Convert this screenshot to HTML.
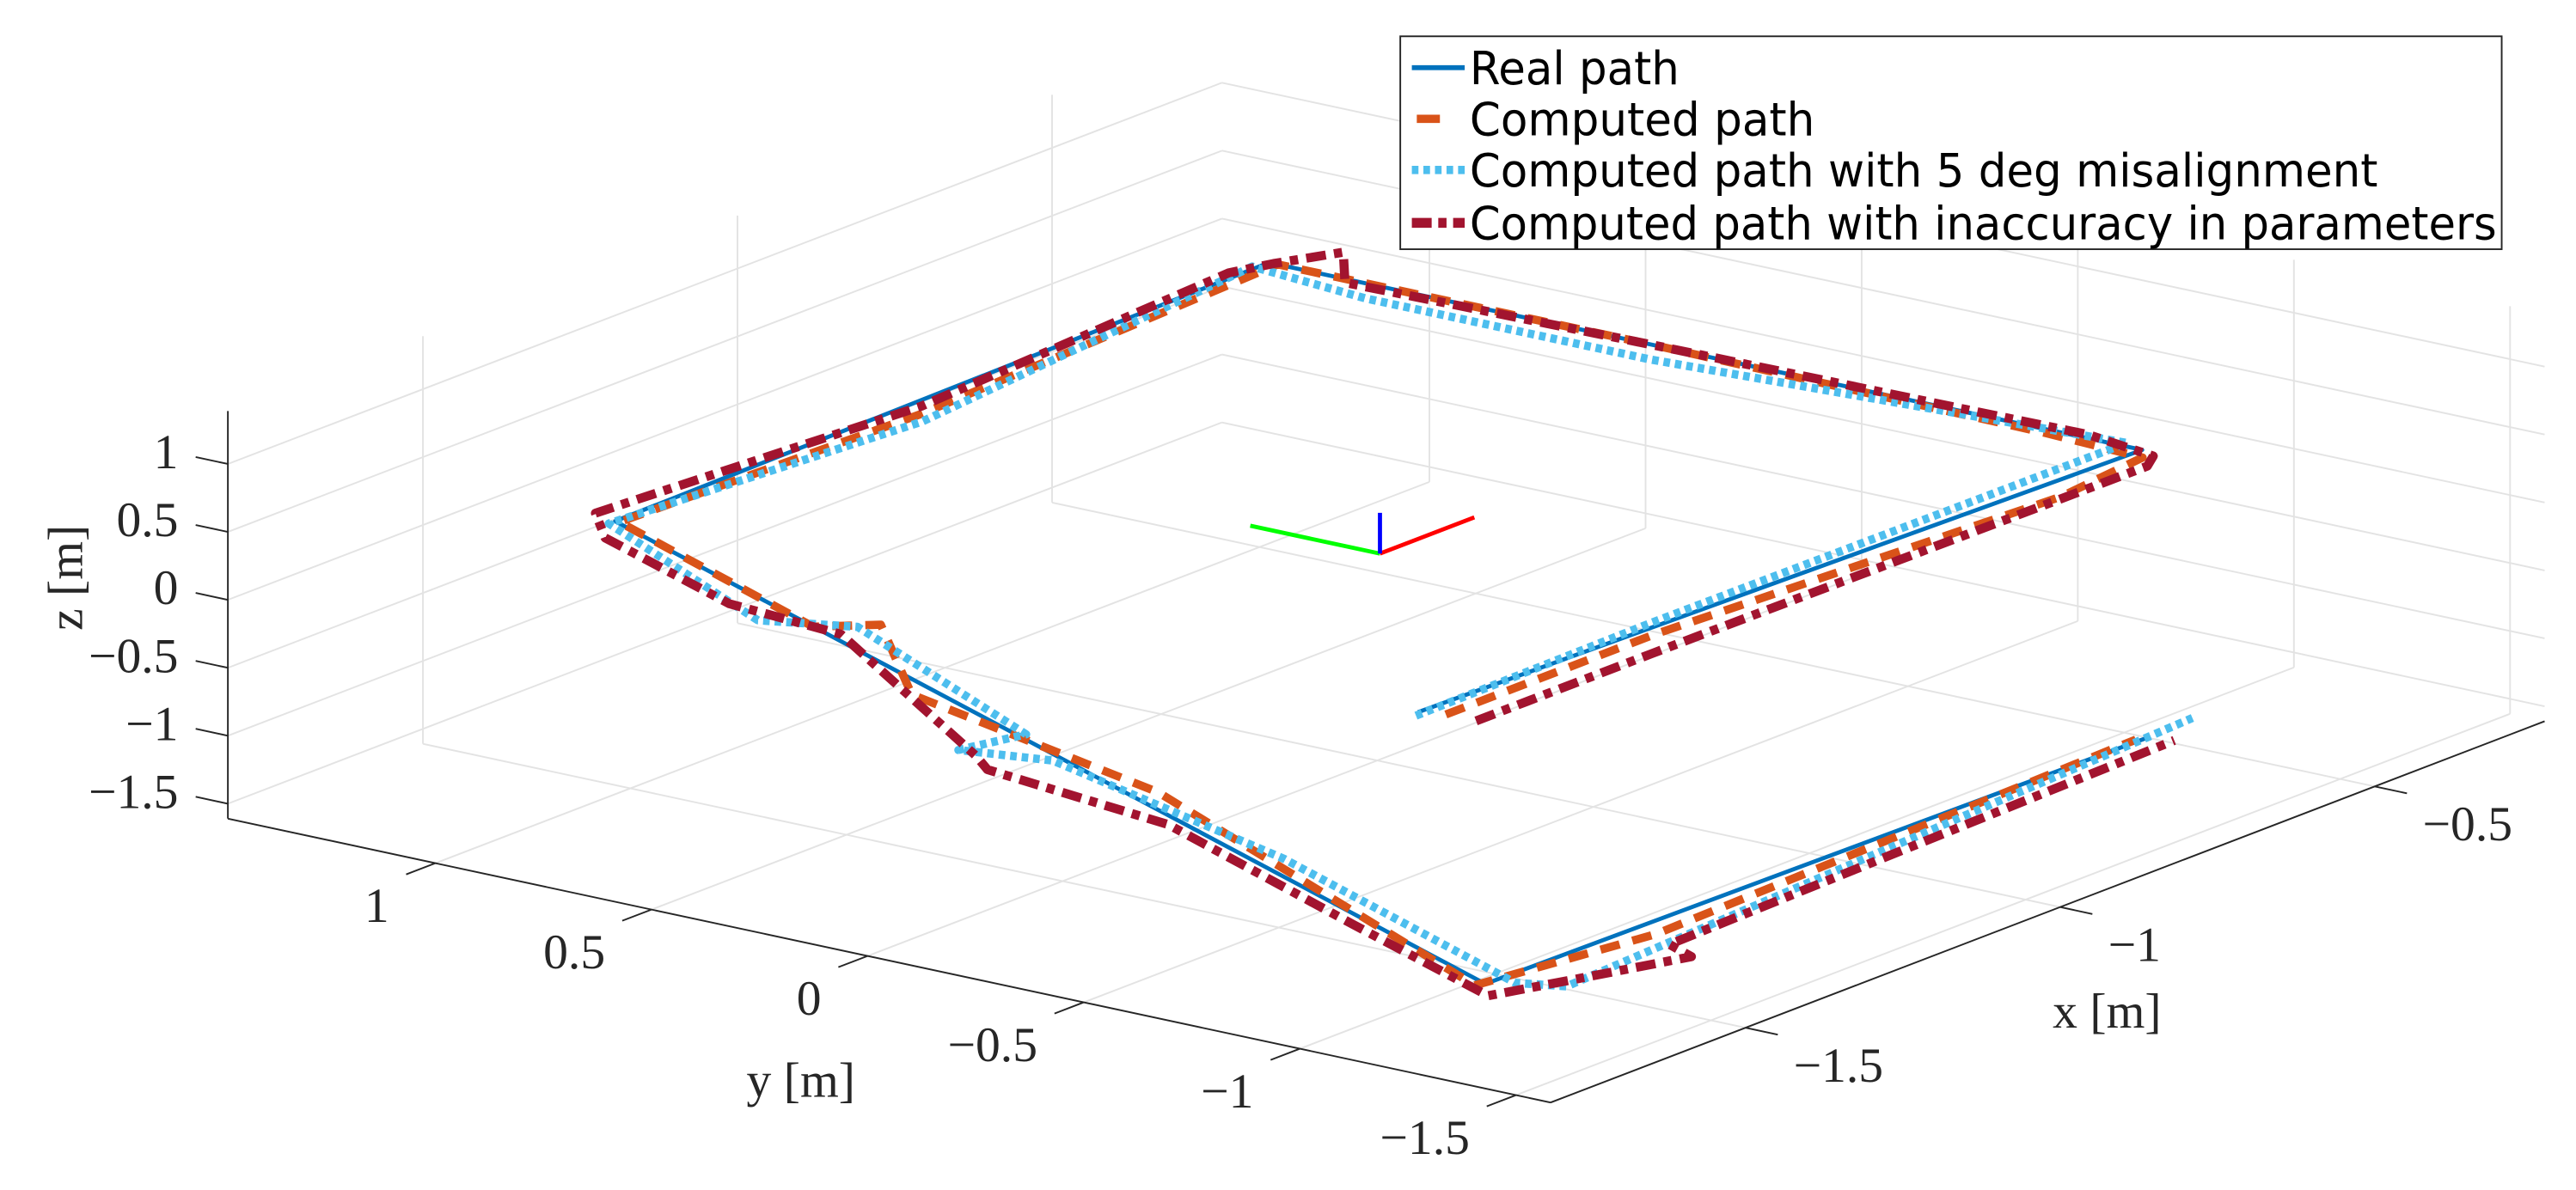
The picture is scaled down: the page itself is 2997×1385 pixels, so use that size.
<!DOCTYPE html>
<html><head><meta charset="utf-8">
<style>
html,body{margin:0;padding:0;background:#fff;}
svg{display:block;}
.tk{font-family:"Liberation Serif",serif;font-size:30px;fill:#262626;}
.lg{font-family:"DejaVu Sans","Liberation Sans",sans-serif;font-size:28px;fill:#000;}
</style></head>
<body>
<svg id="chart" width="2997" height="1385" viewBox="0 0 1560 721" preserveAspectRatio="none" xmlns="http://www.w3.org/2000/svg">
<rect x="0" y="0" width="1560" height="721" fill="#fff"/>
<g id="grid"></g>
<g id="axes"></g>
<g id="series"></g>
<g id="frame"></g>
<g>
<rect x="848" y="22" width="667" height="129" fill="#fff" stroke="#262626" stroke-width="1"/>
<line x1="855" y1="41" x2="887" y2="41" stroke="#0072BD" stroke-width="3"/>
<text class="lg" x="890" y="51" textLength="127" lengthAdjust="spacingAndGlyphs">Real path</text>
<line x1="858" y1="72" x2="872" y2="72" stroke="#D95319" stroke-width="5"/>
<text class="lg" x="890" y="82" textLength="209" lengthAdjust="spacingAndGlyphs">Computed path</text>
<line x1="855" y1="103" x2="887" y2="103" stroke="#4DBEEE" stroke-width="5" stroke-dasharray="4 3"/>
<text class="lg" x="890" y="113" textLength="550" lengthAdjust="spacingAndGlyphs">Computed path with 5 deg misalignment</text>
<line x1="855" y1="135" x2="887" y2="135" stroke="#A2142F" stroke-width="6" stroke-dasharray="12 4 5 4"/>
<text class="lg" x="890" y="145" textLength="622" lengthAdjust="spacingAndGlyphs">Computed path with inaccuracy in parameters</text>
</g>
</svg>
<script>
// axis limits & ticks
const xTicks = [-1.5, -1, -0.5];
const yTicks = [-1.5, -1, -0.5, 0, 0.5, 1];
const zTicks = [-1.5, -1, -0.5, 0, 0.5, 1];
const xTickLabels = ["\u22121.5", "\u22121", "\u22120.5"];
const yTickLabels = ["\u22121.5", "\u22121", "\u22120.5", "0", "0.5", "1"];
const zTickLabels = ["\u22121.5", "\u22121", "\u22120.5", "0", "0.5", "1"];
const xLim = [-1.81, -0.23];
const yLim = [-1.58, 1.48];
const zLim = [-1.61, 1.39];

// Real path
const realX = [-1.43, -0.32, -0.32, -1.38, -1.68, -0.65];
const realY = [-0.72, -0.78, 1.24, 1.21, -1.24, -1.27];
const realZ = [0, 0, 0, 0, -1.2, -1.2];
// Computed path
const compX = [-1.42, -1.09, -0.49, -0.34, -0.33, -0.32, -0.32, -0.92, -1.38, -1.45, -1.37, -1.52, -1.52, -1.69, -1.45, -0.66];
const compY = [-0.77, -0.77, -0.84, -0.81, -0.57, 0.35, 1.22, 1.17, 1.20, 0.65, 0.61, 0.32, -0.25, -1.23, -1.30, -1.26];
const compZ = [0, 0, 0, 0, 0, 0, 0, 0, 0, -0.27, -0.37, -0.42, -0.75, -1.2, -1.2, -1.2];
// Computed path with 5 deg misalignment
const misX = [-1.44, -1.06, -0.31, -0.36, -0.36, -0.34, -0.94, -1.39, -1.49, -1.40, -1.51, -1.59, -1.55, -1.56, -1.66, -1.64, -0.57];
const misY = [-0.73, -0.72, -0.73, 0.30, 0.96, 1.25, 1.14, 1.21, 0.72, 0.62, 0.07, 0.11, -0.05, -0.60, -1.28, -1.37, -1.26];
const misZ = [0, 0, 0, 0, 0, 0, 0, 0, -0.2, -0.34, -0.56, -0.56, -0.6, -0.93, -1.2, -1.2, -1.2];
// Computed path with inaccuracy in parameters
const inaX = [-1.42, -1.14, -0.36, -0.33, -0.31, -0.32, -0.33, -0.25, -0.32, -0.37, -0.90, -1.37, -1.43, -1.48, -1.44, -1.61, -1.64, -1.60, -1.67, -1.71, -1.61, -1.49, -1.47, -0.64];
const inaY = [-0.84, -0.84, -0.85, -0.82, -0.64, 0.36, 1.05, 1.17, 1.23, 1.26, 1.20, 1.27, 1.16, 0.80, 0.60, 0.04, -0.03, -0.39, -0.92, -1.29, -1.36, -1.44, -1.36, -1.32];
const inaZ = [0, 0, 0, 0, 0, 0, 0, 0, 0, 0, 0, 0, 0, -0.15, -0.31, -0.52, -0.52, -0.75, -1.0, -1.2, -1.2, -1.2, -1.2, -1.2];
// body frame
const frameOrigin = [-1.03, -0.05, 0.0];
const frameLen = [0.15, 0.3, 0.3];

const NS = "http://www.w3.org/2000/svg";
function proj(x, y, z) {
  const u = (x - xLim[0]) / (xLim[1] - xLim[0]);
  const v = (y - yLim[0]) / (yLim[1] - yLim[0]);
  const w = (z - zLim[0]) / (zLim[1] - zLim[0]);
  return [939 + 602 * u - 801 * v, 668 - 231 * u - 172 * v - 247 * w];
}
function line(g, p, q, stroke, sw) {
  const l = document.createElementNS(NS, "line");
  l.setAttribute("x1", p[0]); l.setAttribute("y1", p[1]);
  l.setAttribute("x2", q[0]); l.setAttribute("y2", q[1]);
  l.setAttribute("stroke", stroke); l.setAttribute("stroke-width", sw);
  g.appendChild(l);
  return l;
}
function text(g, x, y, s, anchor) {
  const t = document.createElementNS(NS, "text");
  t.setAttribute("x", x); t.setAttribute("y", y);
  t.setAttribute("class", "tk");
  t.setAttribute("text-anchor", anchor);
  t.setAttribute("dominant-baseline", "central");
  t.textContent = s;
  g.appendChild(t);
  return t;
}
const grid = document.getElementById("grid");
const GC = "#e3e3e3", GW = 1;
xTicks.forEach(x => {
  const l = line(grid, proj(x, yLim[0], zLim[0]), proj(x, yLim[1], zLim[0]), GC, GW);
  
  
  const m = line(grid, proj(x, yLim[1], zLim[0]), proj(x, yLim[1], zLim[1]), GC, GW);
  
  
});
yTicks.forEach(y => {
  const l = line(grid, proj(xLim[0], y, zLim[0]), proj(xLim[1], y, zLim[0]), GC, GW);
  
  
  const m = line(grid, proj(xLim[1], y, zLim[0]), proj(xLim[1], y, zLim[1]), GC, GW);
  
  
});
zTicks.forEach(z => {
  const l = line(grid, proj(xLim[0], yLim[1], z), proj(xLim[1], yLim[1], z), GC, GW);
  
  
  const m = line(grid, proj(xLim[1], yLim[0], z), proj(xLim[1], yLim[1], z), GC, GW);
  
  
});
const axes = document.getElementById("axes");
const AC = "#262626";
let a;
a = line(axes, proj(xLim[0], yLim[1], zLim[0]), proj(xLim[0], yLim[1], zLim[1]), AC, 1);


a = line(axes, proj(xLim[0], yLim[1], zLim[0]), proj(xLim[0], yLim[0], zLim[0]), AC, 1);


a = line(axes, proj(xLim[0], yLim[0], zLim[0]), proj(xLim[1], yLim[0], zLim[0]), AC, 1);


zTicks.forEach((z, i) => {
  const p = proj(xLim[0], yLim[1], z);
  const t = line(axes, p, [p[0] - 19.5, p[1] - 4.2], AC, 1);
  
  
  const lb = text(axes, p[0] - 30, p[1] - 7, zTickLabels[i], "end");
  
  
});
yTicks.forEach((y, i) => {
  const p = proj(xLim[0], y, zLim[0]);
  const t = line(axes, p, [p[0] - 17.7, p[1] + 6.8], AC, 1);
  
  
  const lb = text(axes, p[0] - 28, p[1] + 26, yTickLabels[i], "end");
  
  
});
xTicks.forEach((x, i) => {
  const p = proj(x, yLim[0], zLim[0]);
  const t = line(axes, p, [p[0] + 19.5, p[1] + 4.2], AC, 1);
  
  
  const lb = text(axes, p[0] + 29, p[1] + 23, xTickLabels[i], "start");
  
  
});
let tt;
tt = text(axes, 485, 655, "y [m]", "middle");


tt = text(axes, 1276, 613, "x [m]", "middle");


tt = text(axes, 40, 350, "z [m]", "middle");
tt.setAttribute("transform", "rotate(-90 40 350)");



const sg = document.getElementById("series");
function path(xs, ys, zs, stroke, sw, dash, name) {
  const d = xs.map((x, i) => { const p = proj(x, ys[i], zs[i]); return (i ? "L" : "M") + p[0].toFixed(1) + " " + p[1].toFixed(1); }).join(" ");
  const el = document.createElementNS(NS, "path");
  el.setAttribute("d", d);
  el.setAttribute("fill", "none");
  el.setAttribute("stroke", stroke);
  el.setAttribute("stroke-width", sw);
  el.setAttribute("stroke-linejoin", "round");
  if (dash) el.setAttribute("stroke-dasharray", dash);
  
  
  sg.appendChild(el);
}
path(realX, realY, realZ, "#0072BD", 2.5, null, "real-path-line");
path(compX, compY, compZ, "#D95319", 5, "12 8", "computed-path-line");
path(misX, misY, misZ, "#4DBEEE", 5, "4 3", "misalignment-path-line");
path(inaX, inaY, inaZ, "#A2142F", 5.5, "12 5 5 5", "inaccuracy-path-line");

const fg = document.getElementById("frame");
const o = proj(frameOrigin[0], frameOrigin[1], frameOrigin[2]);
let f;
f = line(fg, o, proj(frameOrigin[0], frameOrigin[1] + frameLen[1], frameOrigin[2]), "#00ff00", 2.5);


f = line(fg, o, proj(frameOrigin[0] + frameLen[0], frameOrigin[1], frameOrigin[2]), "#ff0000", 2.5);


f = line(fg, o, proj(frameOrigin[0], frameOrigin[1], frameOrigin[2] + frameLen[2]), "#0000ff", 2.5);


</script>
</body></html>
